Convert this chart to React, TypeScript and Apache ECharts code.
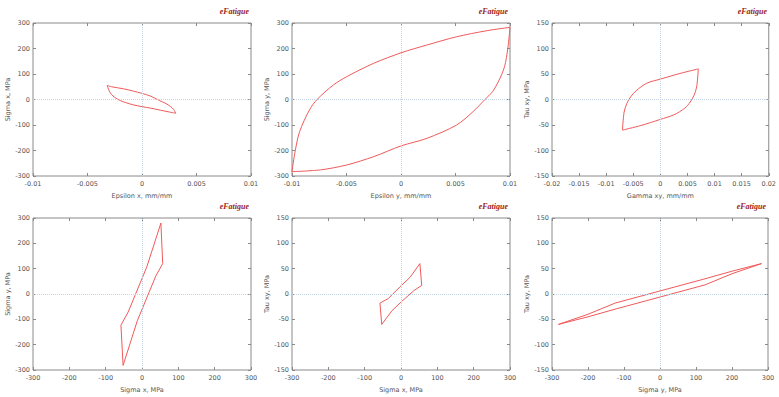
import React, { useEffect, useRef } from "react";
import * as echarts from "echarts";

// Hysteresis loops: each loop as a rising and a falling branch (x, y)
const epsXSigXUp: number[][] = [
  [-0.0032, 55], [-0.0028, 50], [-0.0017, 42], [-0.0008, 33], [0, 24], [0.0008, 13],
  [0.0016, -4], [0.0022, -16], [0.0026, -27], [0.0029, -39], [0.0031, -54],
];
const epsXSigXDown: number[][] = [
  [0.0031, -54], [0.0025, -49], [0.0017, -42], [0.0008, -34], [0, -28], [-0.0008, -21],
  [-0.0015, -12], [-0.002, -4], [-0.0025, 8], [-0.0028, 20], [-0.003, 33], [-0.0032, 55],
];
const epsYSigYUp: number[][] = [
  [-0.01, -283], [-0.0097, -200], [-0.0093, -126], [-0.0084, -41], [-0.0077, 0],
  [-0.0062, 57], [-0.005, 89], [-0.0025, 142], [0, 183], [0.0024, 214], [0.0051, 246],
  [0.0079, 270], [0.01, 283],
];
const epsYSigYDown: number[][] = [
  [0.01, 283], [0.0098, 200], [0.0095, 129], [0.009, 76], [0.0084, 31], [0.0077, 0],
  [0.0066, -48], [0.0051, -100], [0.0024, -152], [0, -182], [-0.0025, -224],
  [-0.005, -257], [-0.0074, -276], [-0.01, -283],
];
const gamXYTauXYUp: number[][] = [
  [-0.007, -60], [-0.0067, -25], [-0.0062, -8], [-0.0055, 5], [-0.0045, 17], [-0.0025, 32],
  [0, 40], [0.0036, 51], [0.007, 60],
];
const gamXYTauXYDown: number[][] = [
  [0.007, 60], [0.0067, 25], [0.0062, 8], [0.0055, -5], [0.0045, -17], [0.0025, -30],
  [0, -39], [-0.0036, -51], [-0.007, -60],
];
const sigXSigYUp: number[][] = [
  [-52, -282], [-58, -123], [-38, -71], [-19, -5], [13, 106], [52, 280],
];
const sigXSigYDown: number[][] = [
  [52, 280], [57, 120], [38, 71], [19, 5], [-13, -106], [-52, -282],
];
const sigXTauXYUp: number[][] = [
  [-53, -60], [-58, -18], [-35, -9], [-3, 14], [25, 33], [52, 60],
];
const sigXTauXYDown: number[][] = [
  [52, 60], [57, 17], [36, 7], [3, -14], [-25, -33], [-53, -60],
];
const sigYTauXYUp: number[][] = [
  [-282, -60], [-200, -40], [-125, -18], [0, 6], [120, 29], [200, 45], [282, 60],
];
const sigYTauXYDown: number[][] = [
  [282, 60], [200, 40], [125, 18], [0, -6], [-120, -29], [-200, -45], [-282, -60],
];

const xNames = ["Epsilon x, mm/mm", "Epsilon y, mm/mm", "Gamma xy, mm/mm", "Sigma x, MPa", "Sigma x, MPa", "Sigma y, MPa"];
const yNames = ["Sigma x, MPa", "Sigma y, MPa", "Tau xy, MPa", "Sigma y, MPa", "Tau xy, MPa", "Tau xy, MPa"];
const xRanges = [[-0.01, 0.01, 0.005], [-0.01, 0.01, 0.005], [-0.02, 0.02, 0.005], [-300, 300, 100], [-300, 300, 100], [-300, 300, 100]];
const yRanges = [[-300, 300, 100], [-300, 300, 100], [-150, 150, 50], [-300, 300, 100], [-150, 150, 50], [-150, 150, 50]];
const panelBranches = [
  [epsXSigXUp, epsXSigXDown], [epsYSigYUp, epsYSigYDown], [gamXYTauXYUp, gamXYTauXYDown],
  [sigXSigYUp, sigXSigYDown], [sigXTauXYUp, sigXTauXYDown], [sigYTauXYUp, sigYTauXYDown],
];
const panelSmooth = [0.3, 0.3, 0.3, 0, 0, 0];
const logoText = "eFatigue";

export default function App() {
  const ref = useRef<HTMLDivElement>(null);
  useEffect(() => {
    if (!ref.current) return;
    const chart = echarts.init(ref.current, undefined, { renderer: "svg" });
    const lefts = [33, 292, 552, 33, 292, 552];
    const widths = [218, 218, 217, 218, 218, 216];
    const tops = [23, 23, 23, 218, 218, 218];
    const heights = [153, 153, 153, 152, 152, 152];
    const font = "DejaVu Sans";
    const labelColor = "#555";
    const frameColor = "#8a8a8a";
    const grids: any[] = [];
    const xAxes: any[] = [];
    const yAxes: any[] = [];
    const series: any[] = [];
    const graphics: any[] = [];
    for (let i = 0; i < 6; i++) {
      grids.push({
        left: lefts[i], top: tops[i], width: widths[i], height: heights[i],
        show: true, borderColor: frameColor, borderWidth: 1, backgroundColor: "transparent",
      });
      const [xmin, xmax, xint] = xRanges[i];
      const [ymin, ymax, yint] = yRanges[i];
      const tick = { show: true, inside: true, length: 3, lineStyle: { color: frameColor, width: 1 } };
      const line = { show: false, onZero: false };
      xAxes.push({
        type: "value", gridIndex: i, min: xmin, max: xmax, interval: xint, position: "bottom",
        axisLine: line, axisTick: tick, splitLine: { show: false },
        axisLabel: { show: true, fontSize: 6.5, color: labelColor, fontFamily: font, margin: 4 },
        name: xNames[i], nameLocation: "middle", nameGap: 16,
        nameTextStyle: { fontSize: 6.5, color: labelColor, fontFamily: font },
      });
      xAxes.push({
        type: "value", gridIndex: i, min: xmin, max: xmax, interval: xint, position: "top",
        axisLine: line, axisTick: tick, splitLine: { show: false }, axisLabel: { show: false },
      });
      yAxes.push({
        type: "value", gridIndex: i, min: ymin, max: ymax, interval: yint, position: "left",
        axisLine: line, axisTick: tick, splitLine: { show: false },
        axisLabel: { show: true, fontSize: 6.5, color: labelColor, fontFamily: font, margin: 3 },
        name: yNames[i], nameLocation: "middle", nameGap: 22,
        nameTextStyle: { fontSize: 6.5, color: labelColor, fontFamily: font },
      });
      yAxes.push({
        type: "value", gridIndex: i, min: ymin, max: ymax, interval: yint, position: "right",
        axisLine: line, axisTick: tick, splitLine: { show: false }, axisLabel: { show: false },
      });
      panelBranches[i].forEach((branch, b) => {
        series.push({
          type: "line", xAxisIndex: 2 * i, yAxisIndex: 2 * i, data: branch,
          showSymbol: false, symbol: "none", smooth: panelSmooth[i],
          lineStyle: { color: "#f05a5a", width: 1 },
          markLine: b === 0 ? {
            silent: true, symbol: "none", label: { show: false },
            lineStyle: { color: "#c4d4e2", type: "dotted", width: 1 },
            data: [{ xAxis: 0 }, { yAxis: 0 }],
          } : undefined,
        });
      });
      graphics.push({
        type: "text", right: 779 - (lefts[i] + widths[i]) + 2, top: tops[i] - 16,
        style: {
          text: logoText, fontSize: 8, fontStyle: "italic", fontWeight: "bold",
          fontFamily: "Liberation Serif", fill: "#9b1d20",
        },
      });
    }
    chart.setOption({
      animation: false,
      backgroundColor: "#ffffff",
      grid: grids,
      xAxis: xAxes,
      yAxis: yAxes,
      series,
      graphic: graphics,
    });
    return () => chart.dispose();
  }, []);
  return (
    <div
      ref={ref}
      style={{ position: "fixed", left: 0, top: 0, width: 779, height: 397 }}
    />
  );
}
